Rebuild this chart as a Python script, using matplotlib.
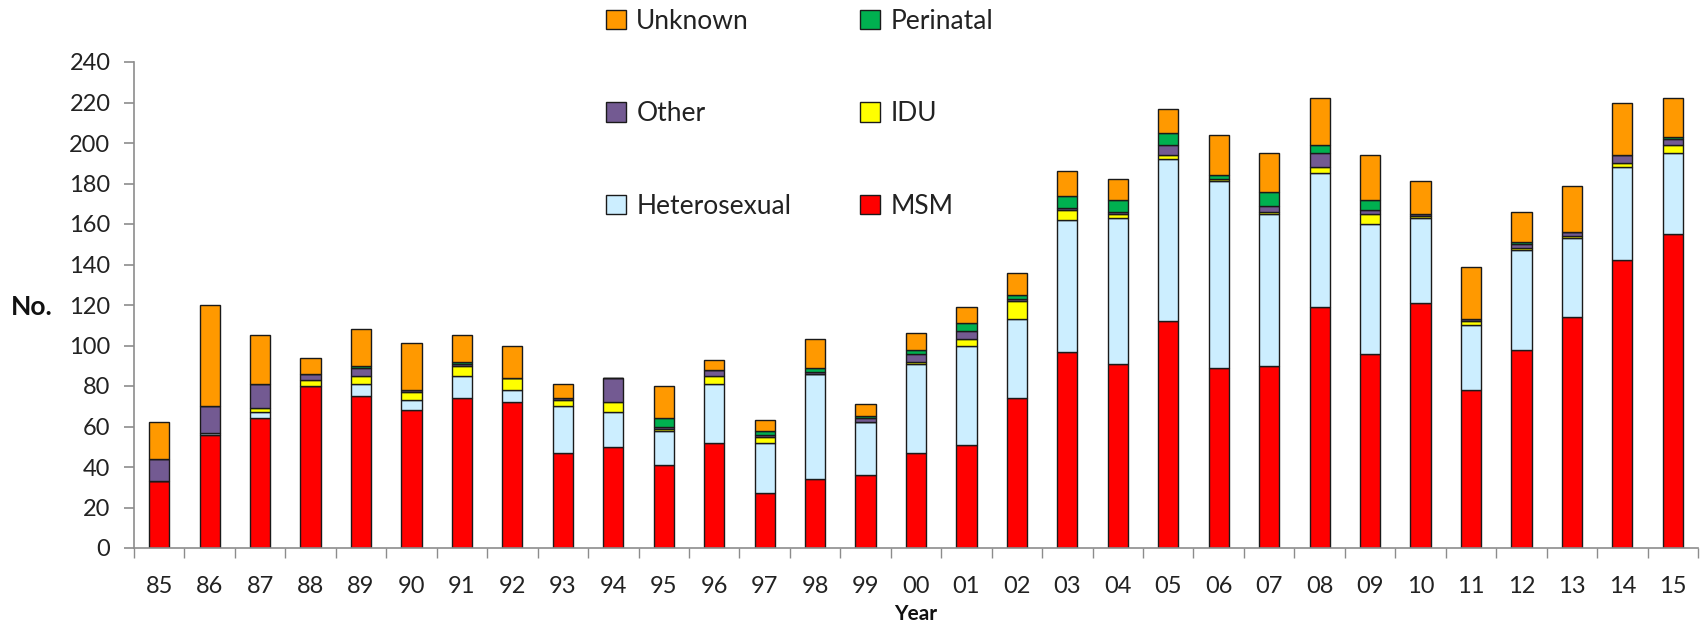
import numpy as np
import matplotlib
matplotlib.use('Agg')
import matplotlib.pyplot as plt

plt.rcParams['font.family'] = ['Lato', 'DejaVu Sans']

years = ['85', '86', '87', '88', '89', '90', '91', '92', '93', '94', '95', '96', '97', '98', '99',
         '00', '01', '02', '03', '04', '05', '06', '07', '08', '09', '10', '11', '12', '13', '14', '15']

msm =          [33, 56, 64, 80, 75, 68, 74, 72, 47, 50, 41, 52, 27, 34, 36,
                47, 51, 74, 97, 91, 112, 89, 90, 119, 96, 121, 78, 98, 114, 142, 155]
heterosexual = [0, 1, 3, 0, 6, 5, 11, 6, 23, 17, 17, 29, 25, 52, 26,
                44, 49, 39, 65, 72, 80, 92, 75, 66, 64, 42, 32, 49, 39, 46, 40]
idu =          [0, 0, 2, 3, 4, 4, 5, 6, 3, 5, 1, 4, 3, 0, 0,
                1, 3, 9, 5, 2, 2, 1, 1, 3, 5, 1, 2, 1, 1, 2, 4]
other =        [11, 13, 12, 3, 4, 1, 1, 0, 1, 12, 1, 3, 1, 1, 2,
                4, 4, 1, 1, 1, 5, 0, 3, 7, 2, 1, 1, 2, 2, 4, 3]
perinatal =    [0, 0, 0, 0, 1, 0, 1, 0, 0, 0, 4, 0, 2, 2, 1,
                2, 4, 2, 6, 6, 6, 2, 7, 4, 5, 0, 0, 1, 0, 0, 1]
unknown =      [18, 50, 24, 8, 18, 23, 13, 16, 7, 0, 16, 5, 5, 14, 6,
                8, 8, 11, 12, 10, 12, 20, 19, 23, 22, 16, 26, 15, 23, 26, 19]

series = [
    ('MSM', msm, '#ff0000'),
    ('Heterosexual', heterosexual, '#cceeff'),
    ('IDU', idu, '#ffff00'),
    ('Other', other, '#735a92'),
    ('Perinatal', perinatal, '#00b050'),
    ('Unknown', unknown, '#ff9900'),
]

fig = plt.figure(figsize=(17, 6.25), dpi=100)
ax = fig.add_axes([134 / 1700, 1 - 548 / 625, 1564 / 1700, (548 - 62) / 625])

x = np.arange(len(years))
bottom = np.zeros(len(years))
bars = {}
for name, vals, col in series:
    vals = np.array(vals, dtype=float)
    bars[name] = ax.bar(x, vals, 0.4, bottom=bottom, color=col,
                        edgecolor='#1a1a1a', linewidth=1.0, label=name)
    bottom += vals

ax.set_xlim(-0.5, len(years) - 0.5)
ax.set_ylim(0, 240)
ax.set_yticks(range(0, 241, 20))
ax.set_xticks(x)
ax.set_xticklabels(years)
ax.set_xticks(np.arange(-0.5, len(years), 1), minor=True)

for s in ['top', 'right']:
    ax.spines[s].set_visible(False)
for s in ['left', 'bottom']:
    ax.spines[s].set_color('#8c8c8c')
    ax.spines[s].set_linewidth(1.2)

ax.tick_params(axis='y', length=7, width=1.2, color='#8c8c8c', labelsize=17,
               pad=10, labelcolor='#222222')
ax.tick_params(axis='x', which='major', length=0, labelsize=17, pad=20,
               labelcolor='#222222')
ax.tick_params(axis='x', which='minor', length=7, width=1.0, color='#8c8c8c')

fig.text(32 / 1700, 1 - 307 / 625, 'No.', ha='center', va='center',
         fontsize=19, fontweight='bold', color='#111111')
fig.text(916 / 1700, 1 - 614 / 625, 'Year', ha='center', va='center',
         fontsize=15, fontweight='bold', color='#111111')

order = ['Unknown', 'Other', 'Heterosexual', 'Perinatal', 'IDU', 'MSM']
fig.legend([bars[n] for n in order], order, loc='upper left',
           bbox_to_anchor=(606 / 1700, 1 - 9 / 625), ncol=2, frameon=False,
           fontsize=19, handlelength=0.75, handleheight=0.75, handletextpad=0.4,
           labelspacing=2.55, columnspacing=2.6, borderpad=0, borderaxespad=0,
           labelcolor='#222222')

fig.savefig('out.png', dpi=100)
